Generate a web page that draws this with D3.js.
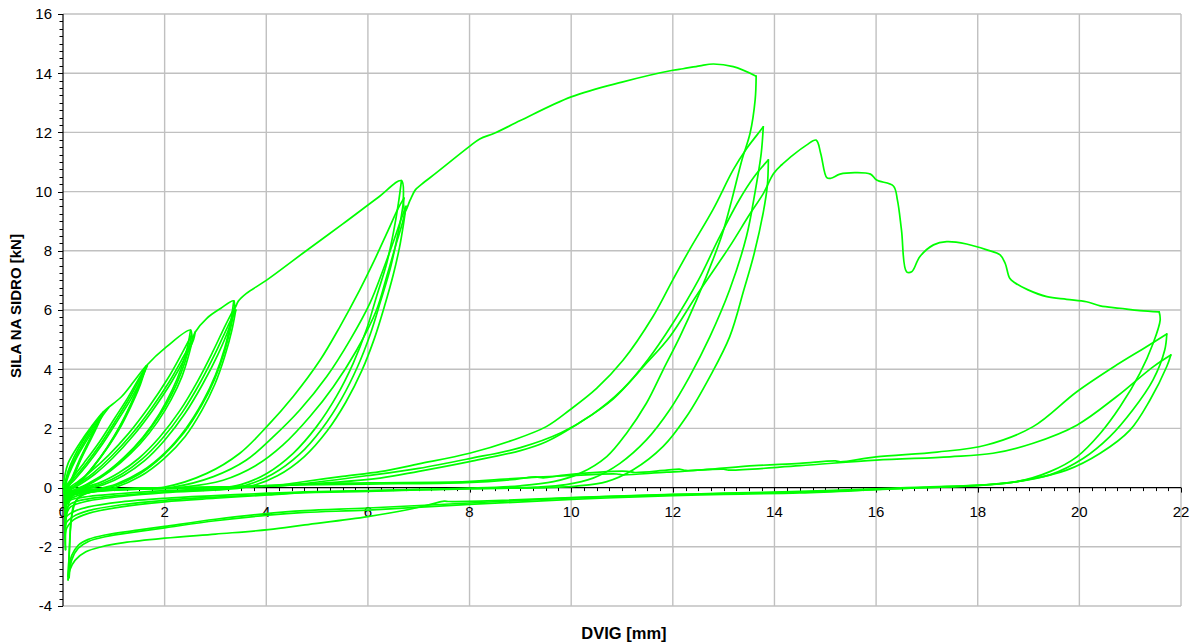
<!DOCTYPE html>
<html><head><meta charset="utf-8">
<script src="https://cdn.jsdelivr.net/npm/d3@7"></script>
<style>
html,body{margin:0;padding:0;background:#fff;}
svg{display:block;}
text{font-family:"Liberation Sans",Arial,sans-serif;fill:#000;}
</style></head><body>
<svg id="chart" width="1192" height="644"></svg>
<script>
// ---------- tick labels ----------
const xTickValues = [0,2,4,6,8,10,12,14,16,18,20,22];
const xTickLabels = ["0","2","4","6","8","10","12","14","16","18","20","22"];
const yTickValues = [-4,-2,0,2,4,6,8,10,12,14,16];
const yTickLabels = ["-4","-2","0","2","4","6","8","10","12","14","16"];
const xTitle = "DVIG [mm]";
const yTitle = "SILA NA SIDRO [kN]";

// ---------- data: displacement [mm], force [kN] ----------
const envelope = [[0,0],[0.03,0.35],[0.1,0.82],[0.33,1.5],[0.56,2.06],[0.79,2.55],[1.15,3.07],[1.4,3.6],[1.63,4.1],[2.04,4.76],[2.51,5.32],[2.54,5.0],[2.6,5.25],[2.83,5.72],[3.1,6.05],[3.36,6.31],[3.38,6.06],[3.45,6.3],[3.61,6.56],[4.0,7.0],[4.8,8.02],[5.5,8.9],[6.2,9.8],[6.66,10.37],[6.7,9.6],[6.73,9.32],[6.83,9.71],[6.93,10.05],[7.06,10.25],[7.35,10.64],[7.98,11.5],[8.2,11.78],[8.5,11.98],[9,12.4],[10,13.2],[11,13.7],[12,14.1],[12.2,14.15],[12.53,14.25],[12.8,14.31],[13.19,14.22],[13.64,13.9]];

const envelopeLate = [[14.14,10.9],[14.37,11.24],[14.63,11.57],[14.82,11.74],[14.91,11.29],[15.03,10.47],[15.11,10.45],[15.29,10.59],[15.58,10.64],[15.89,10.59],[16.01,10.39],[16.34,10.19],[16.42,9.71],[16.5,8.7],[16.6,7.29],[16.7,7.29],[16.86,7.8],[17.13,8.2],[17.39,8.31],[17.78,8.23],[18.18,8.03],[18.44,7.86],[18.54,7.58],[18.63,7.07],[18.73,6.92],[18.99,6.68],[19.36,6.45],[19.75,6.36],[20.14,6.28],[20.41,6.14],[20.8,6.06],[21.19,5.98],[21.57,5.94]];

const stage1 = [
 [[0.79,2.55],[0.66,2.08],[0.5,1.52],[0.34,0.95],[0.21,0.42],[0.11,0.06],[0.05,-0.05],[0.02,-0.1]],
 [[0.02,-0.1],[0.04,0.15],[0.1,0.55],[0.22,1.05],[0.4,1.6],[0.58,2.05],[0.76,2.48]],
 [[0.76,2.48],[0.63,2.0],[0.47,1.45],[0.31,0.88],[0.18,0.35],[0.09,0.02],[0.04,-0.08],[0.02,-0.15]],
 [[0.02,-0.15],[0.04,0.1],[0.11,0.5],[0.24,1.0],[0.42,1.55],[0.6,2.02],[0.77,2.44]],
 [[0.77,2.44],[0.64,1.95],[0.48,1.4],[0.32,0.83],[0.19,0.3],[0.1,0.0],[0.04,-0.1],[0.02,-0.2]],
 [[0.02,-0.2],[0.05,0.08],[0.12,0.46],[0.26,0.98],[0.44,1.52],[0.62,2.0],[0.8,2.48],[0.9,2.7]]
];
const stage2 = [
 [[1.63,4.1],[1.52,3.55],[1.36,2.9],[1.15,2.15],[0.9,1.42],[0.63,0.78],[0.38,0.28],[0.2,0.02],[0.08,-0.12],[0.03,-0.2]],
 [[0.03,-0.2],[0.06,0.05],[0.18,0.32],[0.42,0.85],[0.72,1.55],[1.02,2.35],[1.28,3.05],[1.48,3.65],[1.6,4.0]],
 [[1.6,4.0],[1.49,3.45],[1.33,2.8],[1.11,2.05],[0.86,1.34],[0.59,0.7],[0.35,0.22],[0.18,-0.02],[0.07,-0.15],[0.03,-0.28]],
 [[0.03,-0.28],[0.06,0.0],[0.2,0.28],[0.45,0.8],[0.75,1.5],[1.05,2.3],[1.3,3.0],[1.49,3.6],[1.61,3.95]],
 [[1.61,3.95],[1.5,3.38],[1.33,2.72],[1.1,1.95],[0.84,1.26],[0.56,0.62],[0.32,0.16],[0.16,-0.06],[0.06,-0.2],[0.03,-0.35]],
 [[0.03,-0.35],[0.06,-0.05],[0.22,0.25],[0.48,0.78],[0.78,1.48],[1.08,2.28],[1.34,3.0],[1.53,3.62],[1.66,4.12]]
];
const stage3 = [
 [[2.51,5.32],[2.45,4.75],[2.33,4.05],[2.15,3.3],[1.9,2.5],[1.58,1.72],[1.2,1.02],[0.8,0.45],[0.45,0.1],[0.22,-0.08],[0.08,-0.2],[0.03,-0.3]],
 [[0.03,-0.3],[0.07,-0.08],[0.25,0.15],[0.55,0.55],[0.9,1.1],[1.3,1.85],[1.7,2.75],[2.05,3.65],[2.33,4.5],[2.53,5.15]],
 [[2.53,5.15],[2.46,4.6],[2.33,3.9],[2.13,3.12],[1.87,2.36],[1.54,1.6],[1.16,0.93],[0.76,0.38],[0.42,0.05],[0.2,-0.12],[0.07,-0.25],[0.03,-0.4]],
 [[0.03,-0.4],[0.08,-0.12],[0.28,0.1],[0.6,0.5],[0.95,1.05],[1.35,1.8],[1.75,2.7],[2.1,3.6],[2.37,4.42],[2.55,5.0]],
 [[2.55,5.0],[2.47,4.45],[2.34,3.75],[2.13,2.98],[1.86,2.22],[1.52,1.48],[1.13,0.84],[0.73,0.32],[0.4,0.0],[0.19,-0.16],[0.07,-0.3],[0.03,-0.5]],
 [[0.03,-0.5],[0.08,-0.16],[0.3,0.07],[0.63,0.46],[0.98,1.0],[1.38,1.75],[1.78,2.65],[2.13,3.55],[2.4,4.38],[2.57,5.0],[2.6,5.25]]
];
const stage4 = [
 [[3.36,6.31],[3.3,5.6],[3.18,4.7],[3.0,3.8],[2.75,2.9],[2.42,2.0],[2.02,1.2],[1.55,0.55],[1.05,0.12],[0.6,-0.08],[0.25,-0.2],[0.08,-0.32],[0.03,-0.45]],
 [[0.03,-0.45],[0.09,-0.18],[0.3,-0.04],[0.7,0.15],[1.1,0.5],[1.5,1.0],[1.9,1.7],[2.3,2.6],[2.65,3.6],[2.95,4.6],[3.2,5.5],[3.38,6.1]],
 [[3.38,6.1],[3.3,5.4],[3.17,4.55],[2.98,3.65],[2.72,2.75],[2.38,1.85],[1.97,1.08],[1.5,0.45],[1.0,0.05],[0.55,-0.12],[0.22,-0.25],[0.08,-0.38],[0.03,-0.55]],
 [[0.03,-0.55],[0.09,-0.22],[0.32,-0.07],[0.75,0.12],[1.15,0.45],[1.55,0.95],[1.95,1.65],[2.35,2.55],[2.7,3.55],[3.0,4.55],[3.23,5.4],[3.4,6.0]],
 [[3.4,6.0],[3.32,5.3],[3.18,4.42],[2.99,3.5],[2.73,2.6],[2.4,1.72],[1.99,0.98],[1.52,0.38],[1.02,0.0],[0.57,-0.15],[0.24,-0.3],[0.08,-0.45],[0.03,-0.65]],
 [[0.03,-0.65],[0.09,-0.27],[0.34,-0.1],[0.8,0.1],[1.2,0.42],[1.6,0.9],[2.0,1.6],[2.4,2.5],[2.75,3.5],[3.05,4.5],[3.27,5.4],[3.38,6.06]]
];
const stage5 = [
 [[6.66,10.37],[6.6,9.6],[6.5,8.6],[6.37,7.58],[6.17,6.46],[5.97,5.33],[5.71,4.2],[5.38,3.08],[4.99,2.06],[4.53,1.16],[4.01,0.48],[3.5,0.1],[3.0,-0.03],[2.0,-0.1],[1.15,-0.2],[0.5,-0.3],[0.15,-0.42],[0.05,-0.6]],
 [[0.05,-0.6],[0.08,-0.25],[0.25,-0.1],[0.83,-0.06],[1.5,-0.02],[2.0,0.02],[2.83,0.48],[3.48,1.16],[4.01,2.06],[4.53,3.08],[5.06,4.31],[5.45,5.44],[5.84,6.68],[6.1,7.58],[6.4,8.7],[6.6,9.45],[6.71,9.78]],
 [[6.71,9.78],[6.66,9.2],[6.57,8.4],[6.44,7.4],[6.25,6.3],[6.05,5.2],[5.8,4.1],[5.48,3.0],[5.1,2.0],[4.65,1.12],[4.12,0.45],[3.6,0.08],[3.1,-0.05],[2.0,-0.14],[1.15,-0.26],[0.5,-0.38],[0.15,-0.55],[0.05,-0.8]],
 [[0.05,-0.8],[0.08,-0.3],[0.28,-0.12],[0.9,-0.06],[1.6,-0.02],[2.17,0.02],[2.96,0.37],[3.61,0.93],[4.14,1.72],[4.66,2.62],[5.19,3.75],[5.65,4.99],[6.04,6.23],[6.3,7.36],[6.52,8.4],[6.66,9.1],[6.75,9.5]],
 [[6.75,9.5],[6.7,8.9],[6.62,8.1],[6.5,7.2],[6.33,6.15],[6.13,5.05],[5.88,3.95],[5.57,2.9],[5.2,1.92],[4.75,1.05],[4.22,0.4],[3.7,0.05],[3.2,-0.06],[2.0,-0.17],[1.15,-0.3],[0.5,-0.45],[0.15,-0.65],[0.05,-1.0]],
 [[0.05,-1.0],[0.08,-0.35],[0.3,-0.14],[0.95,-0.06],[1.7,-0.02],[2.37,0.02],[3.15,0.25],[3.81,0.76],[4.33,1.44],[4.86,2.4],[5.32,3.41],[5.78,4.65],[6.17,6.0],[6.37,7.13],[6.55,8.2],[6.68,8.95],[6.73,9.32]]
];
const stage6 = [
 [[13.64,13.9],[13.62,13.1],[13.52,11.97],[13.36,11.07],[13.16,9.72],[12.98,8.6],[12.79,7.7],[12.47,6.35],[12.14,5.1],[11.81,3.98],[11.48,2.85],[11.09,1.84],[10.7,1.05],[10.17,0.48],[9.65,0.2],[9.0,0.06],[8,-0.02],[7,-0.06],[6,-0.1],[4.76,-0.14],[4.04,-0.19],[3,-0.27],[2,-0.36],[1.15,-0.48],[0.5,-0.65],[0.2,-0.82],[0.06,-1.0],[0.04,-1.3]],
 [[0.04,-1.3],[0.07,-0.5],[0.2,-0.2],[0.6,-0.08],[1.5,-0.03],[2.5,0.0],[3.5,0.03],[4.2,0.08],[4.66,0.18],[5.5,0.38],[6.24,0.54],[7,0.8],[8,1.16],[8.86,1.61],[9.51,2.06],[9.97,2.62],[10.5,3.35],[11.02,4.3],[11.61,5.78],[12.0,7.02],[12.33,8.04],[12.79,9.39],[13.19,10.74],[13.45,11.45],[13.65,11.9],[13.78,12.19]],
 [[13.78,12.19],[13.74,11.3],[13.62,10.0],[13.45,8.49],[13.12,6.69],[12.73,5.1],[12.33,3.75],[11.94,2.63],[11.48,1.61],[10.96,0.82],[10.43,0.32],[9.9,0.1],[9.3,0.02],[8,-0.03],[7,-0.07],[6,-0.11],[4.76,-0.16],[4.04,-0.23],[3,-0.32],[2,-0.43],[1.15,-0.58],[0.5,-0.78],[0.2,-0.98],[0.06,-1.2],[0.04,-1.7]],
 [[0.04,-1.7],[0.07,-0.6],[0.2,-0.22],[0.65,-0.09],[1.6,-0.03],[2.6,0.0],[3.6,0.03],[4.3,0.07],[4.66,0.12],[5.97,0.4],[7,0.65],[8,0.98],[9,1.35],[9.8,1.85],[10.4,2.45],[11.0,3.3],[11.5,4.3],[12.0,5.55],[12.5,7.0],[12.9,8.4],[13.3,9.7],[13.6,10.5],[13.88,11.07]],
 [[13.88,11.07],[13.86,10.2],[13.78,9.3],[13.6,7.9],[13.4,6.69],[13.12,5.1],[12.73,3.75],[12.27,2.4],[11.81,1.39],[11.22,0.6],[10.7,0.2],[10.1,0.05],[9.5,0.0],[8,-0.04],[7,-0.08],[6,-0.13],[4.76,-0.17],[4.04,-0.25],[3,-0.36],[2,-0.48],[1.15,-0.65],[0.5,-0.87],[0.2,-1.1],[0.06,-1.43],[0.05,-2.1]],
 [[0.05,-2.1],[0.08,-0.8],[0.2,-0.25],[0.7,-0.1],[1.7,-0.03],[2.7,0.0],[3.7,0.03],[4.66,0.1],[6.24,0.32],[7,0.55],[8.0,0.88],[9.0,1.25],[9.51,1.55],[10.17,2.2],[10.83,3.0],[11.48,4.2],[11.94,5.1],[12.47,6.5],[13.12,8.15],[13.5,9.2],[13.78,9.93],[13.98,10.6],[14.14,10.9]]
];
const stage7 = [
 [[21.57,5.94],[21.59,5.66],[21.45,4.87],[21.19,3.86],[20.8,2.73],[20.41,1.83],[19.95,1.04],[19.42,0.54],[18.77,0.2],[18.11,0.09],[17,0.02],[16,-0.04],[14.5,-0.13],[13,-0.19],[12,-0.23],[10,-0.34],[8.5,-0.44],[7.6,-0.47],[7.5,-0.46],[7.25,-0.56],[6.8,-0.74],[6,-0.98],[4.76,-1.26],[4.04,-1.42],[3,-1.57],[2,-1.71],[1.2,-1.86],[0.76,-2.0],[0.45,-2.17],[0.24,-2.45],[0.13,-2.8],[0.1,-3.12]],
 [[0.1,-3.12],[0.12,-2.3],[0.15,-1.3],[0.22,-0.55],[0.4,-0.22],[1.0,-0.09],[2.0,-0.03],[3.3,0.02],[4.66,0.09],[6,0.12],[7.94,0.17],[8.9,0.28],[9.3,0.36],[9.45,0.33],[9.91,0.43],[11.1,0.55],[11.25,0.51],[11.88,0.59],[12.15,0.62],[12.25,0.58],[13.6,0.74],[14.5,0.82],[15.2,0.9],[15.3,0.87],[16.0,1.04],[17.2,1.2],[18.17,1.44],[19.09,2.06],[19.95,3.24],[20.73,4.14],[21.32,4.76],[21.72,5.19]],
 [[21.72,5.19],[21.68,4.65],[21.45,3.64],[21.05,2.62],[20.6,1.72],[20.08,0.99],[19.42,0.43],[18.57,0.15],[18.0,0.07],[17,0.0],[16,-0.06],[14.5,-0.15],[13,-0.2],[12,-0.24],[10,-0.35],[8,-0.52],[6,-0.69],[4.76,-0.78],[4.04,-0.87],[3,-1.07],[2,-1.31],[1.5,-1.43],[0.83,-1.6],[0.5,-1.75],[0.3,-1.95],[0.17,-2.3],[0.1,-3.0]],
 [[0.1,-3.0],[0.13,-2.0],[0.17,-1.0],[0.27,-0.42],[0.5,-0.17],[1.2,-0.07],[2.2,-0.02],[3.5,0.03],[4.66,0.12],[6,0.16],[7.94,0.2],[8.6,0.28],[9.91,0.4],[10.9,0.46],[11.0,0.43],[11.88,0.52],[13.0,0.62],[13.1,0.59],[14.5,0.74],[16.0,0.93],[17.45,1.04],[18.3,1.16],[19.09,1.5],[19.95,2.11],[20.73,3.07],[21.45,4.08],[21.8,4.48]],
 [[21.8,4.48],[21.72,4.09],[21.39,2.96],[21.0,1.95],[20.41,1.16],[19.75,0.59],[18.96,0.26],[18.2,0.1],[17,0.01],[16,-0.07],[14.5,-0.18],[13,-0.23],[12,-0.27],[10,-0.4],[8,-0.57],[6,-0.76],[4.76,-0.84],[4.04,-0.93],[3,-1.12],[2,-1.36],[1.5,-1.48],[0.83,-1.66],[0.5,-1.82],[0.3,-2.05],[0.17,-2.45],[0.12,-3.05]]
];

// ---------- drawing ----------
const svg = d3.select("#chart");
const x = d3.scaleLinear().domain([0, 22]).range([63, 1181]);
const y = d3.scaleLinear().domain([-4, 16]).range([606, 14]);
const gridColor = "#c0c0c0";

// grid
svg.append("g").selectAll("line").data(xTickValues.filter(v => v > 0)).join("line")
  .attr("x1", d => x(d)).attr("x2", d => x(d)).attr("y1", y(16)).attr("y2", y(-4))
  .attr("stroke", gridColor).attr("stroke-width", 1.4);
svg.append("g").selectAll("line").data(yTickValues.filter(v => v !== 0)).join("line")
  .attr("x1", x(0)).attr("x2", x(22)).attr("y1", d => y(d)).attr("y2", d => y(d))
  .attr("stroke", gridColor).attr("stroke-width", 1.4);

// y axis
const yAxis = svg.append("g");
yAxis.append("line").attr("x1", x(0)).attr("x2", x(0)).attr("y1", y(16)).attr("y2", y(-4))
  .attr("stroke", "#000").attr("stroke-width", 1.2);
const yMinor = d3.range(-4, 16.001, 0.25);
yAxis.selectAll("line.t").data(yMinor).join("line").attr("class", "t")
  .attr("x1", d => x(0) - (Math.abs(d % 2) < 1e-9 ? 5 : 3.5)).attr("x2", x(0))
  .attr("y1", d => Math.round(y(d)) + 0.5).attr("y2", d => Math.round(y(d)) + 0.5)
  .attr("stroke", "#000").attr("stroke-width", 1);
yAxis.selectAll("text").data(yTickValues).join("text")
  .attr("x", 52).attr("y", d => y(d)).attr("dy", "0.36em")
  .attr("text-anchor", "end").attr("font-size", 15)
  .text((d, i) => yTickLabels[i]);

// x axis at y = 0
const xAxis = svg.append("g");
xAxis.append("line").attr("x1", x(0)).attr("x2", x(22)).attr("y1", y(0)).attr("y2", y(0))
  .attr("stroke", "#000").attr("stroke-width", 1.2);
const xMinor = d3.range(0, 22.001, 0.25);
xAxis.selectAll("line.t").data(xMinor).join("line").attr("class", "t")
  .attr("x1", d => Math.round(x(d)) + 0.5).attr("x2", d => Math.round(x(d)) + 0.5)
  .attr("y1", y(0)).attr("y2", d => y(0) + (Math.abs(d % 2) < 1e-9 ? 5 : 3.5))
  .attr("stroke", "#000").attr("stroke-width", 1);
xAxis.selectAll("text").data(xTickValues).join("text")
  .attr("x", d => x(d)).attr("y", y(0) + 29.5)
  .attr("text-anchor", "middle").attr("font-size", 15)
  .text((d, i) => xTickLabels[i]);

// titles
svg.append("text").attr("x", 624).attr("y", 639).attr("text-anchor", "middle")
  .attr("font-size", 16.5).attr("font-weight", "bold").text(xTitle);
svg.append("text").attr("transform", "translate(21,306) rotate(-90)")
  .attr("text-anchor", "middle").attr("font-size", 15).attr("font-weight", "bold").text(yTitle);

// curves
const line = d3.line().x(d => x(d[0])).y(d => y(d[1])).curve(d3.curveCatmullRom.alpha(0.5));
const allCurves = [envelope, envelopeLate].concat(stage1, stage2, stage3, stage4, stage5, stage6, stage7);
svg.append("g").selectAll("path").data(allCurves).join("path")
  .attr("d", line).attr("fill", "none").attr("stroke", "#00ff00")
  .attr("stroke-width", 1.7).attr("stroke-linejoin", "round").attr("stroke-linecap", "round");
</script>
</body></html>
